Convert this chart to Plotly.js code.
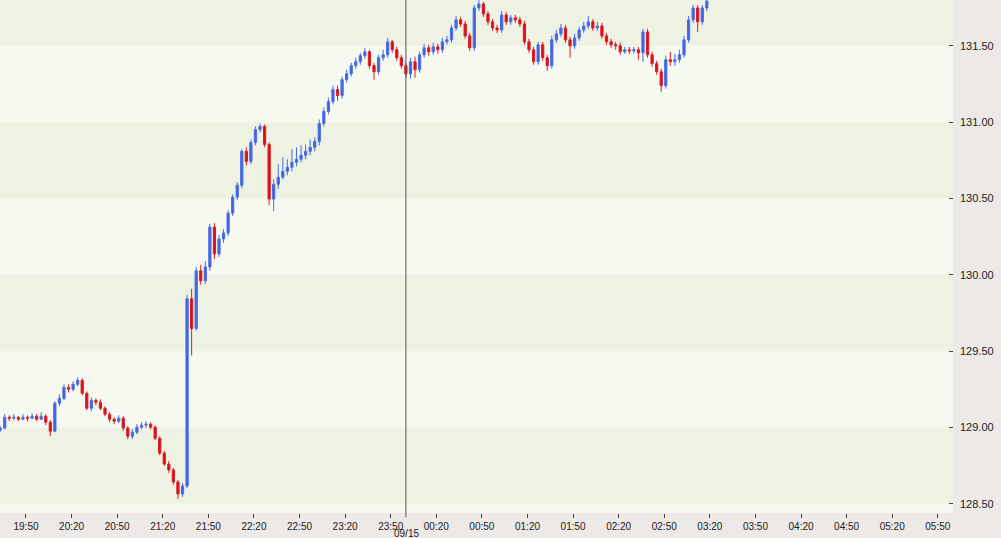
<!DOCTYPE html>
<html>
<head>
<meta charset="utf-8">
<script src="https://cdn.plot.ly/plotly-3.0.1.min.js"></script>
<style>
  html, body { margin: 0; padding: 0; background: #ECE9E6; }
  #chart { width: 1001px; height: 538px; }
</style>
</head>
<body>
<div id="chart"></div>
<script>
// ---- data (3-minute bars, starting 2016-09-14 19:33) ----
const startTime = "2016-09-14T19:33:00";
const stepMinutes = 3;

const openP = [
128.983,128.996,129.067,129.061,129.067,129.054,129.067,129.061,129.074,129.054,
129.074,129.035,128.976,129.159,129.191,129.263,129.250,129.283,129.309,129.224,
129.126,129.178,129.165,129.126,129.087,129.054,129.041,129.061,128.996,128.943,
128.969,129.002,129.015,129.022,129.002,128.930,128.832,128.761,128.722,128.643,
128.565,128.617,129.843,129.648,130.026,129.961,130.052,130.313,130.137,130.235,
130.274,130.404,130.509,130.587,130.809,130.743,130.867,130.952,130.972,130.854,
130.496,130.593,130.639,130.678,130.704,130.737,130.757,130.783,130.809,130.835,
130.874,130.991,131.070,131.135,131.213,131.174,131.278,131.317,131.370,131.396,
131.435,131.461,131.370,131.330,131.422,131.441,131.526,131.474,131.422,131.370,
131.317,131.396,131.343,131.441,131.487,131.461,131.493,131.474,131.526,131.539,
131.617,131.670,131.643,131.565,131.487,131.748,131.774,131.709,131.657,131.617,
131.604,131.702,131.657,131.683,131.670,131.643,131.526,131.474,131.396,131.507,
131.422,131.370,131.539,131.578,131.617,131.539,131.500,131.552,131.604,131.630,
131.657,131.617,131.630,131.565,131.526,131.507,131.500,131.461,131.474,131.467,
131.474,131.454,131.591,131.441,131.383,131.330,131.239,131.409,131.396,131.409,
131.441,131.539,131.670,131.748,131.657,131.748];

const highP = [
129.009,129.087,129.080,129.087,129.074,129.087,129.080,129.093,129.087,129.100,
129.087,129.048,129.172,129.217,129.283,129.283,129.302,129.328,129.322,129.237,
129.198,129.191,129.185,129.139,129.100,129.067,129.080,129.074,129.009,128.989,
129.022,129.035,129.041,129.035,129.015,128.943,128.846,128.780,128.735,128.657,
128.637,129.870,129.909,130.052,130.065,130.091,130.333,130.339,130.261,130.300,
130.424,130.528,130.606,130.822,130.835,130.887,130.972,130.991,130.985,130.867,
130.626,130.724,130.770,130.757,130.822,130.835,130.848,130.854,130.887,130.900,
131.017,131.096,131.161,131.239,131.239,131.298,131.343,131.389,131.422,131.454,
131.487,131.474,131.389,131.441,131.474,131.552,131.539,131.493,131.441,131.389,
131.422,131.428,131.461,131.513,131.507,131.520,131.513,131.552,131.565,131.637,
131.696,131.689,131.663,131.585,131.767,131.800,131.787,131.728,131.676,131.637,
131.728,131.722,131.702,131.702,131.689,131.663,131.546,131.493,131.526,131.526,
131.441,131.565,131.604,131.643,131.637,131.559,131.578,131.624,131.657,131.696,
131.676,131.657,131.650,131.585,131.546,131.526,131.520,131.493,131.493,131.493,
131.493,131.611,131.611,131.461,131.402,131.350,131.435,131.461,131.448,131.474,
131.565,131.696,131.767,131.767,131.767,131.813];

const lowP = [
128.969,128.989,129.041,129.048,129.041,129.048,129.041,129.054,129.041,129.048,
129.015,128.943,128.969,129.139,129.178,129.230,129.237,129.270,129.211,129.113,
129.106,129.146,129.113,129.074,129.035,129.022,129.028,128.976,128.924,128.924,
128.956,128.989,128.996,128.989,128.917,128.819,128.748,128.702,128.624,128.532,
128.546,128.604,129.472,129.635,129.935,129.941,130.026,130.104,130.117,130.209,
130.254,130.385,130.489,130.567,130.717,130.724,130.848,130.933,130.835,130.456,
130.417,130.561,130.626,130.652,130.678,130.711,130.737,130.757,130.783,130.809,
130.848,130.972,131.050,131.115,131.141,131.154,131.259,131.298,131.350,131.376,
131.415,131.350,131.278,131.311,131.402,131.422,131.454,131.402,131.350,131.291,
131.285,131.291,131.324,131.422,131.435,131.441,131.448,131.454,131.507,131.520,
131.598,131.624,131.546,131.467,131.467,131.728,131.689,131.637,131.598,131.585,
131.585,131.637,131.637,131.650,131.624,131.507,131.454,131.376,131.376,131.402,
131.337,131.350,131.520,131.559,131.520,131.422,131.480,131.533,131.585,131.611,
131.598,131.598,131.546,131.507,131.487,131.474,131.441,131.448,131.448,131.448,
131.409,131.396,131.422,131.363,131.311,131.200,131.220,131.370,131.370,131.389,
131.422,131.520,131.650,131.591,131.637,131.728];

const closeP = [
128.996,129.067,129.061,129.067,129.054,129.067,129.061,129.074,129.054,129.074,
129.035,128.976,129.159,129.191,129.263,129.250,129.283,129.309,129.224,129.126,
129.178,129.165,129.126,129.087,129.054,129.041,129.061,128.996,128.943,128.969,
129.002,129.015,129.022,129.002,128.930,128.832,128.761,128.722,128.643,128.565,
128.617,129.843,129.648,130.026,129.961,130.052,130.313,130.137,130.235,130.274,
130.404,130.509,130.587,130.809,130.743,130.867,130.952,130.972,130.854,130.496,
130.593,130.639,130.678,130.704,130.737,130.757,130.783,130.809,130.835,130.874,
130.991,131.070,131.135,131.213,131.174,131.278,131.317,131.370,131.396,131.435,
131.461,131.370,131.330,131.422,131.441,131.526,131.474,131.422,131.370,131.317,
131.396,131.343,131.441,131.487,131.461,131.493,131.474,131.526,131.539,131.617,
131.670,131.643,131.565,131.487,131.748,131.774,131.709,131.657,131.617,131.604,
131.702,131.657,131.683,131.670,131.643,131.526,131.474,131.396,131.507,131.422,
131.370,131.539,131.578,131.617,131.539,131.500,131.552,131.604,131.630,131.657,
131.617,131.630,131.565,131.526,131.507,131.500,131.461,131.474,131.467,131.474,
131.454,131.591,131.441,131.383,131.330,131.239,131.409,131.396,131.409,131.441,
131.539,131.670,131.748,131.657,131.748,131.793];

const xTickVals = [
"2016-09-14 19:50","2016-09-14 20:20","2016-09-14 20:50","2016-09-14 21:20","2016-09-14 21:50",
"2016-09-14 22:20","2016-09-14 22:50","2016-09-14 23:20","2016-09-14 23:50","2016-09-15 00:20",
"2016-09-15 00:50","2016-09-15 01:20","2016-09-15 01:50","2016-09-15 02:20","2016-09-15 02:50",
"2016-09-15 03:20","2016-09-15 03:50","2016-09-15 04:20","2016-09-15 04:50","2016-09-15 05:20",
"2016-09-15 05:50"];
const xTickText = ["19:50","20:20","20:50","21:20","21:50","22:20","22:50","23:20","23:50","00:20",
"00:50","01:20","01:50","02:20","02:50","03:20","03:50","04:20","04:50","05:20","05:50"];

const yTickVals = [128.5, 129.0, 129.5, 130.0, 130.5, 131.0, 131.5];
const yTickText = ["128.50","129.00","129.50","130.00","130.50","131.00","131.50"];

const dayMarker = "2016-09-15 00:00";
const dayLabel = "09/15";
const xRange = ["2016-09-14 19:32:54", "2016-09-15 06:00:00"];
const yRange = [128.44, 131.80];

// ---- build times ----
function fmt(d) {
  const p = n => String(n).padStart(2, "0");
  return d.getFullYear() + "-" + p(d.getMonth() + 1) + "-" + p(d.getDate()) + " " + p(d.getHours()) + ":" + p(d.getMinutes());
}
const t0 = new Date(startTime);
const times = openP.map((_, i) => fmt(new Date(t0.getTime() + i * stepMinutes * 60000)));

// ---- background bands ----
const darkBand = "#EEF2E2";
const lightBand = "#F6F9EF";
const shapes = [];
const bandEdges = yTickVals.concat([132.0]);
for (let k = 0; k < bandEdges.length - 1; k += 2) {
  shapes.push({type: "rect", xref: "paper", yref: "y", x0: 0, x1: 1,
    y0: bandEdges[k], y1: bandEdges[k + 1], fillcolor: darkBand, line: {width: 0}, layer: "below"});
}
shapes.push({type: "line", xref: "x", yref: "paper", x0: dayMarker, x1: dayMarker, y0: -0.008, y1: 1,
  line: {color: "#555555", width: 1}});

const trace = {
  type: "candlestick",
  x: times, open: openP, high: highP, low: lowP, close: closeP,
  increasing: {line: {color: "#4A6DE5", width: 1}, fillcolor: "#3F63E0"},
  decreasing: {line: {color: "#DD1C24", width: 1}, fillcolor: "#D80C14"},
  whiskerwidth: 0,
  hoverinfo: "skip",
  showlegend: false
};

const layout = {
  width: 1001, height: 538,
  margin: {l: 0, r: 48, t: 0, b: 25, pad: 0},
  paper_bgcolor: "#ECE9E6",
  plot_bgcolor: lightBand,
  showlegend: false,
  font: {family: "Arial, 'Liberation Sans', sans-serif", color: "#222222"},
  xaxis: {
    type: "date", range: xRange, rangeslider: {visible: false},
    tickmode: "array", tickvals: xTickVals, ticktext: xTickText,
    ticks: "outside", ticklen: 4, tickwidth: 1, tickcolor: "#444444",
    tickfont: {size: 10, color: "#222222"},
    showgrid: false, zeroline: false, showline: false, fixedrange: true
  },
  yaxis: {
    side: "right", range: yRange,
    tickmode: "array", tickvals: yTickVals, ticktext: yTickText,
    ticks: "inside", ticklen: 4, tickwidth: 1, tickcolor: "#444444",
    ticklabelstandoff: 6,
    tickfont: {size: 11, color: "#222222"},
    showgrid: false, zeroline: false, showline: false, fixedrange: true
  },
  shapes: shapes,
  annotations: [{
    x: dayMarker, xref: "x", y: 0, yref: "paper", yanchor: "top", yshift: -12.5, xshift: 1,
    text: dayLabel, showarrow: false, font: {size: 10, color: "#222222"}
  }]
};

Plotly.newPlot("chart", [trace], layout, {staticPlot: true, displayModeBar: false});
</script>
</body>
</html>
